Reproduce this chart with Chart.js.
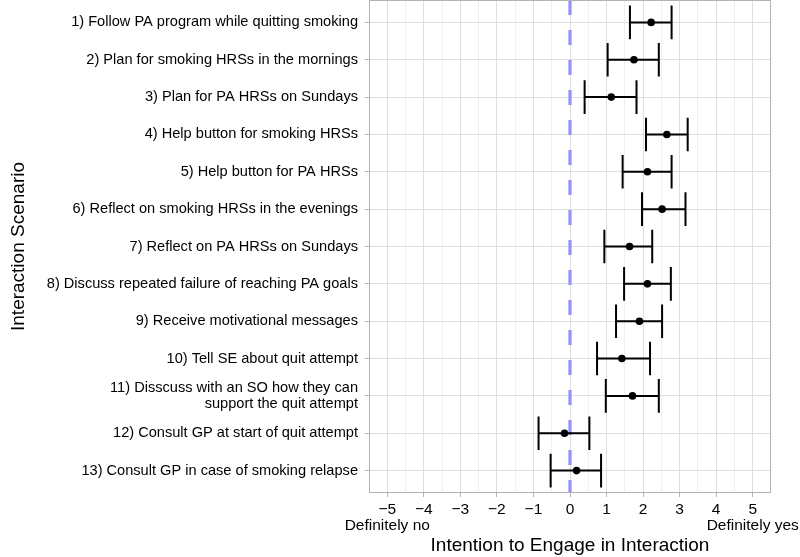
<!DOCTYPE html>
<html><head><meta charset="utf-8">
<script src="https://cdn.jsdelivr.net/npm/chart.js@4/dist/chart.umd.min.js"></script>
<style>html,body{margin:0;padding:0;background:#fff;overflow:hidden}</style>
</head><body>
<canvas id="c" width="800" height="557"></canvas>
<script>
const scenarios = [
  '1) Follow PA program while quitting smoking',
  '2) Plan for smoking HRSs in the mornings',
  '3) Plan for PA HRSs on Sundays',
  '4) Help button for smoking HRSs',
  '5) Help button for PA HRSs',
  '6) Reflect on smoking HRSs in the evenings',
  '7) Reflect on PA HRSs on Sundays',
  '8) Discuss repeated failure of reaching PA goals',
  '9) Receive motivational messages',
  '10) Tell SE about quit attempt',
  ['11) Disscuss with an SO how they can', 'support the quit attempt'],
  '12) Consult GP at start of quit attempt',
  '13) Consult GP in case of smoking relapse'
];
const meanValues  = [2.22, 1.75, 1.13, 2.65, 2.12, 2.52, 1.63, 2.12, 1.90, 1.42, 1.71, -0.15, 0.18];
const lowerValues = [1.64, 1.03, 0.40, 2.08, 1.44, 1.97, 0.94, 1.48, 1.26, 0.74, 0.98, -0.86, -0.53];
const upperValues = [2.78, 2.43, 1.82, 3.22, 2.78, 3.16, 2.25, 2.76, 2.52, 2.19, 2.43, 0.53, 0.85];
const xMajorTicks = [-5, -4, -3, -2, -1, 0, 1, 2, 3, 4, 5];
const xMinorTicks = [-4.5, -3.5, -2.5, -1.5, -0.5, 0.5, 1.5, 2.5, 3.5, 4.5];
const xTickLabels = ['\u22125', '\u22124', '\u22123', '\u22122', '\u22121', '0', '1', '2', '3', '4', '5'];
const xEndCaptions = ['Definitely no', 'Definitely yes'];
const referenceValue = 0;

const FONT = "'Liberation Sans', Arial, Helvetica, sans-serif";
const GRID_MAJOR = '#dedede';
const GRID_MINOR = '#efefef';
const BORDER = '#b3b3b3';

const overlayPlugin = {
  id: 'overlay',
  beforeDatasetsDraw(chart) {
    const {ctx, chartArea: a, scales: {x, y}} = chart;
    ctx.save();
    ctx.beginPath();
    ctx.rect(a.left, a.top, a.right - a.left, a.bottom - a.top);
    ctx.clip();
    const rx = x.getPixelForValue(referenceValue);
    ctx.strokeStyle = '#9595f7';
    ctx.lineWidth = 3.3;
    ctx.setLineDash([15, 15]);
    ctx.beginPath();
    ctx.moveTo(rx, a.top);
    ctx.lineTo(rx, a.bottom);
    ctx.stroke();
    ctx.setLineDash([]);
    ctx.strokeStyle = '#000';
    ctx.lineWidth = 2;
    meanValues.forEach((m, i) => {
      const row = i + 1;
      const x0 = x.getPixelForValue(lowerValues[i]);
      const x1 = x.getPixelForValue(upperValues[i]);
      const yc = y.getPixelForValue(row);
      const yt = y.getPixelForValue(row - 0.45);
      const yb = y.getPixelForValue(row + 0.45);
      ctx.beginPath();
      ctx.moveTo(x0, yc); ctx.lineTo(x1, yc);
      ctx.moveTo(x0, yt); ctx.lineTo(x0, yb);
      ctx.moveTo(x1, yt); ctx.lineTo(x1, yb);
      ctx.stroke();
    });
    ctx.restore();
  },
  afterDatasetsDraw(chart) {
    const {ctx, chartArea: a} = chart;
    ctx.save();
    ctx.strokeStyle = BORDER;
    ctx.lineWidth = 1;
    ctx.strokeRect(a.left + 0.5, a.top + 0.5, a.right - a.left - 1, a.bottom - a.top - 1);
    ctx.restore();
  }
};

const isMajor = v => xMajorTicks.includes(v);

new Chart(document.getElementById('c'), {
  type: 'scatter',
  data: {
    datasets: [{
      data: meanValues.map((v, i) => ({x: v, y: i + 1})),
      pointRadius: 3.8,
      pointHoverRadius: 3.8,
      backgroundColor: '#000',
      borderWidth: 0,
      clip: false
    }]
  },
  options: {
    responsive: false,
    animation: false,
    devicePixelRatio: 1,
    layout: {autoPadding: false, padding: {top: 0, right: 29, bottom: 0, left: 0}},
    plugins: {legend: {display: false}, tooltip: {enabled: false}},
    scales: {
      x: {
        type: 'linear',
        min: -5.5, max: 5.5,
        afterBuildTicks: s => { s.ticks = xMajorTicks.concat(xMinorTicks).sort((a, b) => a - b).map(v => ({value: v})); },
        afterFit: s => { s.height = 64; s.paddingLeft = 0; s.paddingRight = 0; },
        ticks: {
          autoSkip: false, maxRotation: 0, minRotation: 0,
          color: '#000', padding: 4,
          font: {family: FONT, size: 15.5, lineHeight: 1.08},
          callback: v => {
            const k = xMajorTicks.indexOf(v);
            if (k < 0) return '';
            if (k === 0) return [xTickLabels[k], xEndCaptions[0]];
            if (k === xMajorTicks.length - 1) return [xTickLabels[k], xEndCaptions[1]];
            return xTickLabels[k];
          }
        },
        grid: {
          color: c => (c.tick && isMajor(c.tick.value)) ? GRID_MAJOR : GRID_MINOR,
          tickColor: c => (c.tick && isMajor(c.tick.value)) ? BORDER : 'rgba(0,0,0,0)',
          tickLength: 4, lineWidth: 1
        },
        border: {display: false},
        title: {display: true, text: 'Intention to Engage in Interaction', color: '#000',
                font: {family: FONT, size: 19, lineHeight: 1.2}, padding: {top: 0, bottom: 0}}
      },
      y: {
        type: 'linear',
        reverse: true,
        min: 0.4, max: 13.6,
        afterBuildTicks: s => { s.ticks = scenarios.map((_, i) => ({value: i + 1})); },
        afterFit: s => { s.width = 369; s.paddingTop = 0; s.paddingBottom = 0; },
        ticks: {
          autoSkip: false, color: '#000', padding: 7,
          font: {family: FONT, size: 14.6, lineHeight: 1.1},
          callback: v => scenarios[v - 1]
        },
        grid: {color: GRID_MAJOR, tickColor: BORDER, tickLength: 4, lineWidth: 1},
        border: {display: false},
        title: {display: true, text: 'Interaction Scenario', color: '#000',
                font: {family: FONT, size: 19, lineHeight: 1.2}, padding: {top: 7, bottom: 0}}
      }
    }
  },
  plugins: [overlayPlugin]
});
</script>
</body></html>
